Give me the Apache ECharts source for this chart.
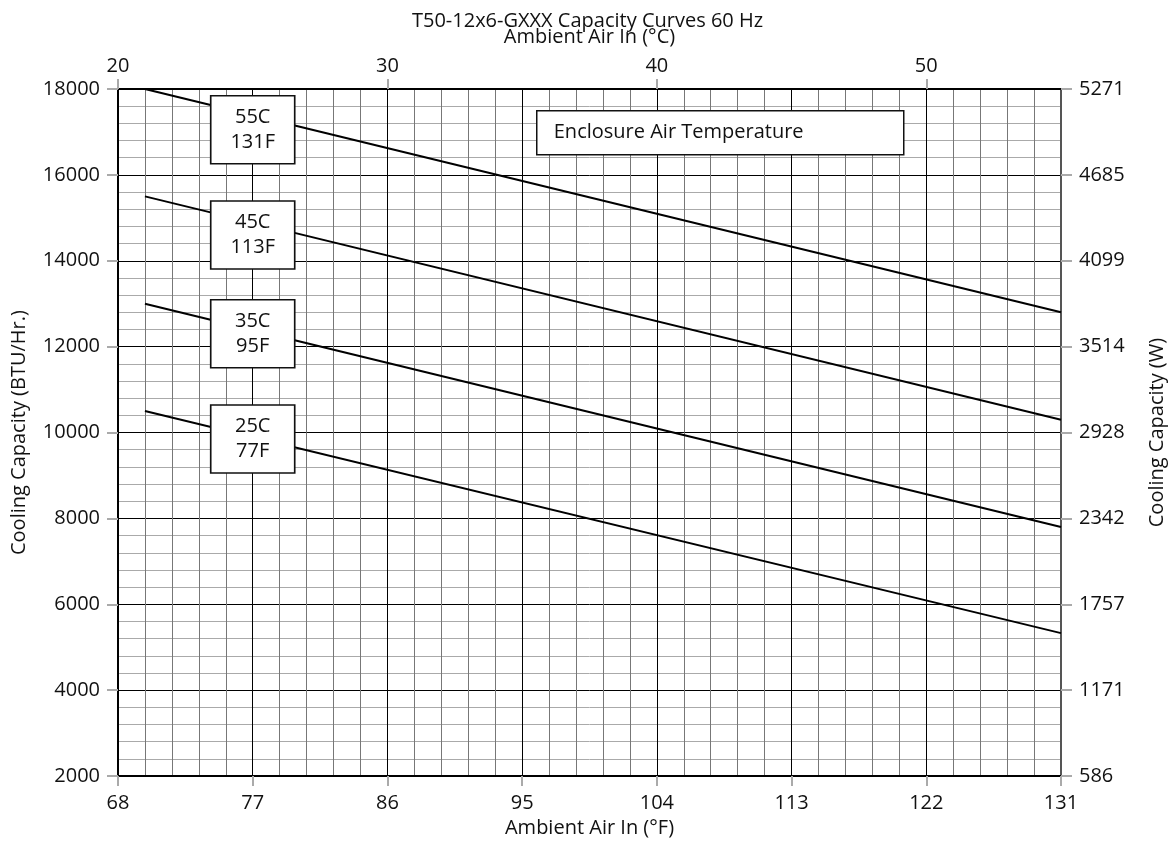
<!DOCTYPE html>
<html>
<head>
<meta charset="utf-8">
<script src="https://cdn.jsdelivr.net/npm/echarts@6/dist/echarts.min.js"></script>
<style>
html,body{margin:0;padding:0;background:#fff;}
#chart{width:1175px;height:843px;}
</style>
</head>
<body>
<div id="chart"></div>
<script>
// ---- data ----
const titleText = 'T50-12x6-GXXX Capacity Curves 60 Hz';
const ambientF = [69.8, 131];                 // x values (°F) of the curve end points
const cap55 = [18000, 12800];                 // BTU/Hr at enclosure 55C
const cap45 = [15500, 10300];
const cap35 = [13000, 7800];
const cap25 = [10500, 5330];
const seriesNames = ['55C', '45C', '35C', '25C'];
const boxLabels = ['55C\n131F', '45C\n113F', '35C\n95F', '25C\n77F'];
const boxAnchorF = [77, 77, 77, 77];
const boxAnchorBtu = [17050, 14600, 12300, 9850];
const wattLabels = ['586', '1171', '1757', '2342', '2928', '3514', '4099', '4685', '5271'];
const legendText = 'Enclosure Air Temperature';

const FONT = 'Open Sans';
const FS = 20;
const allCaps = [cap55, cap45, cap35, cap25];

const series = allCaps.map((cap, i) => ({
  name: seriesNames[i],
  type: 'line',
  xAxisIndex: 0,
  yAxisIndex: 0,
  data: ambientF.map((f, j) => [f, cap[j]]),
  showSymbol: false,
  symbol: 'none',
  lineStyle: { color: '#000', width: 2 },
  silent: true,
  z: 2,
  markPoint: {
    silent: true,
    z: 20,
    symbol: 'rect',
    symbolSize: [84, 68],
    itemStyle: { color: '#ffffff', opacity: 1, borderColor: '#111', borderWidth: 1.5 },
    label: {
      show: true, position: 'inside', color: '#111',
      fontFamily: FONT, fontSize: FS, lineHeight: 25,
      formatter: boxLabels[i]
    },
    data: [{ coord: [boxAnchorF[i], boxAnchorBtu[i]] }]
  }
}));

const chart = echarts.init(document.getElementById('chart'));
chart.setOption({
  animation: false,
  backgroundColor: '#fff',
  textStyle: { fontFamily: FONT },
  title: {
    text: titleText, left: 'center', top: 6,
    textStyle: { fontFamily: FONT, fontSize: FS, fontWeight: 'normal', color: '#111' }
  },
  grid: { left: 118, right: 113, top: 89, bottom: 64 },
  xAxis: [{
    type: 'value', position: 'bottom', min: 68, max: 131, interval: 9,
    name: 'Ambient Air In (°F)', nameLocation: 'middle', nameGap: 32,
    nameTextStyle: { fontFamily: FONT, fontSize: FS, color: '#111' },
    axisLine: { show: true, onZero: false, lineStyle: { color: '#000', width: 2 } },
    axisTick: { show: true, length: 10, lineStyle: { color: '#aaa', width: 2 } },
    axisLabel: { fontFamily: FONT, fontSize: FS, color: '#111', margin: 17 },
    splitLine: { show: true, lineStyle: { color: '#000', width: 1 } },
    minorTick: { show: false, splitNumber: 5 },
    minorSplitLine: { show: true, lineStyle: { color: '#777', width: 1 } }
  }, {
    type: 'value', position: 'top', min: 20, max: 55, interval: 10,
    name: 'Ambient Air In (°C)', nameLocation: 'middle', nameGap: 42,
    nameTextStyle: { fontFamily: FONT, fontSize: FS, color: '#111' },
    axisLine: { show: true, onZero: false, lineStyle: { color: '#000', width: 2 } },
    axisTick: { show: true, length: 10, lineStyle: { color: '#aaa', width: 2 } },
    axisLabel: { fontFamily: FONT, fontSize: FS, color: '#111', margin: 13, showMaxLabel: false },
    splitLine: { show: false }
  }],
  yAxis: [{
    type: 'value', position: 'left', min: 2000, max: 18000, interval: 2000,
    name: 'Cooling Capacity (BTU/Hr.)', nameLocation: 'middle', nameGap: 89,
    nameTextStyle: { fontFamily: FONT, fontSize: FS, color: '#111' },
    axisLine: { show: true, onZero: false, lineStyle: { color: '#000', width: 2 } },
    axisTick: { show: true, length: 11, lineStyle: { color: '#aaa', width: 2 } },
    axisLabel: { fontFamily: FONT, fontSize: FS, color: '#111', margin: 18, formatter: v => String(v) },
    splitLine: { show: true, lineStyle: { color: '#000', width: 1 } },
    minorTick: { show: false, splitNumber: 5 },
    minorSplitLine: { show: true, lineStyle: { color: '#aaa', width: 1 } }
  }, {
    type: 'value', position: 'right', min: 2000, max: 18000, interval: 2000,
    name: 'Cooling Capacity (W)', nameLocation: 'middle', nameGap: 86,
    nameRotate: 90,
    nameTextStyle: { fontFamily: FONT, fontSize: FS, color: '#111' },
    axisLine: { show: true, onZero: false, lineStyle: { color: '#555', width: 2 } },
    axisTick: { show: true, length: 11, lineStyle: { color: '#aaa', width: 2 } },
    axisLabel: {
      fontFamily: FONT, fontSize: FS, color: '#111', margin: 18,
      formatter: v => wattLabels[Math.round((v - 2000) / 2000)]
    },
    splitLine: { show: false }
  }],
  graphic: [{
    type: 'group', left: 536, top: 110, z: 30,
    children: [{
      type: 'rect', z: 30, shape: { x: 0, y: 0, width: 367, height: 44 },
      style: { fill: '#fff', stroke: '#111', lineWidth: 1.5 }
    }, {
      type: 'text', z: 31, x: 17, y: 22,
      style: { text: legendText, fill: '#111', font: FS + 'px "' + FONT + '"', verticalAlign: 'middle' }
    }]
  }],
  series: series
});
</script>
</body>
</html>
